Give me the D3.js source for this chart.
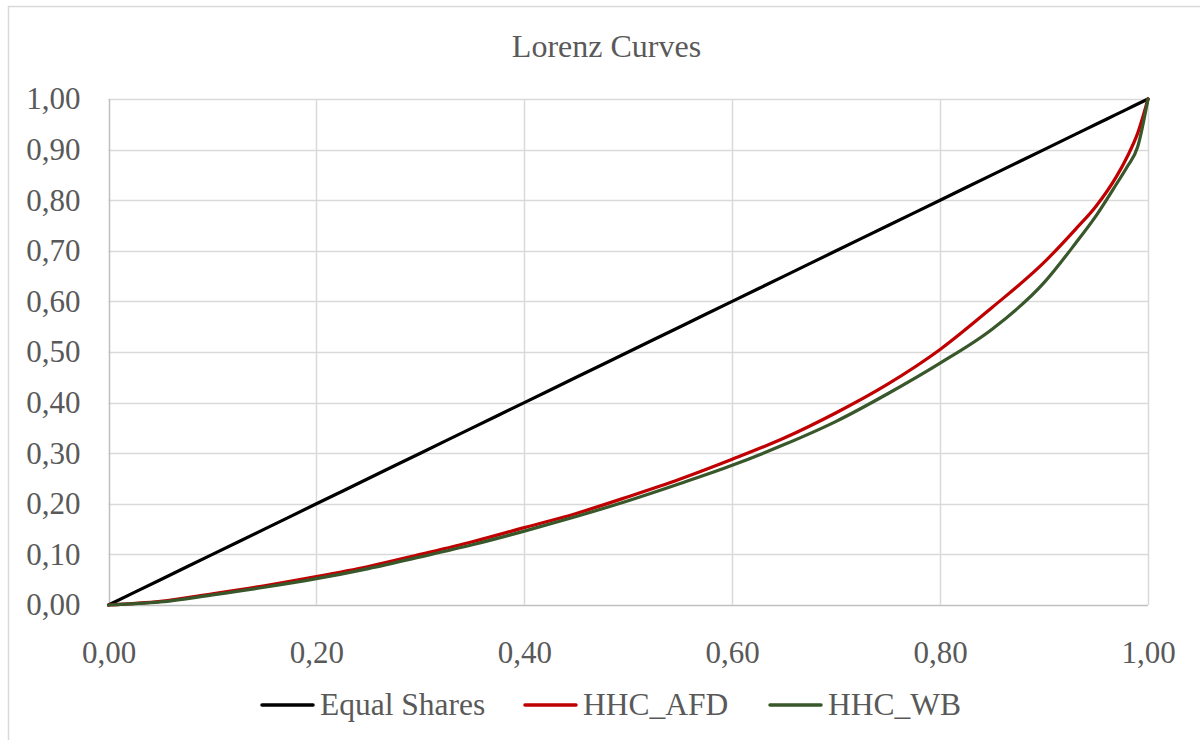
<!DOCTYPE html>
<html>
<head>
<meta charset="utf-8">
<script src="https://cdn.jsdelivr.net/npm/d3@7"></script>
<style>
  html, body { margin: 0; padding: 0; background: #fff; }
  svg { display: block; }
  text { font-family: "Liberation Serif", "Times New Roman", serif; fill: #595959; }
</style>
</head>
<body>
<svg id="chart" width="1200" height="740"></svg>
<script>
// ---- data ----
const popShare = [0, 0.05, 0.10, 0.15, 0.20, 0.25, 0.30, 0.35, 0.40, 0.45, 0.50, 0.55, 0.60, 0.65, 0.70, 0.75, 0.80, 0.85, 0.90, 0.93, 0.95, 0.97, 0.98, 0.99, 1.00];
const equalShares = [0, 0.05, 0.10, 0.15, 0.20, 0.25, 0.30, 0.35, 0.40, 0.45, 0.50, 0.55, 0.60, 0.65, 0.70, 0.75, 0.80, 0.85, 0.90, 0.93, 0.95, 0.97, 0.98, 0.99, 1.00];
const hhcAFD = [0, 0.007, 0.022, 0.038, 0.056, 0.076, 0.100, 0.125, 0.153, 0.181, 0.214, 0.249, 0.288, 0.330, 0.380, 0.437, 0.505, 0.588, 0.677, 0.742, 0.788, 0.848, 0.886, 0.932, 1.00];
const hhcWB  = [0, 0.006, 0.020, 0.035, 0.052, 0.072, 0.095, 0.119, 0.146, 0.175, 0.206, 0.240, 0.276, 0.317, 0.363, 0.418, 0.478, 0.545, 0.637, 0.714, 0.769, 0.833, 0.866, 0.905, 1.00];
const seriesNames = ["Equal Shares", "HHC_AFD", "HHC_WB"];
const seriesColors = ["#000000", "#c00000", "#38572a"];
const xTicks = [0, 0.2, 0.4, 0.6, 0.8, 1.0];
const yTicks = [0, 0.1, 0.2, 0.3, 0.4, 0.5, 0.6, 0.7, 0.8, 0.9, 1.0];
const title = "Lorenz Curves";

// ---- layout ----
const svg = d3.select("#chart");
const plot = { left: 108.5, right: 1148, top: 99, bottom: 605 };
const x = d3.scaleLinear().domain([0, 1]).range([plot.left, plot.right]);
const y = d3.scaleLinear().domain([0, 1]).range([plot.bottom, plot.top]);
const fmt = v => d3.format(".2f")(v).replace(".", ",");
const serif = "'Liberation Serif', 'Times New Roman', serif";

// outer chart border
svg.append("rect").attr("x", 8.5).attr("y", 6.5).attr("width", 1200).attr("height", 740)
  .attr("fill", "#fff").attr("stroke", "#d9d9d9").attr("stroke-width", 1.5);

// title
svg.append("text").attr("x", 606.5).attr("y", 57).attr("text-anchor", "middle")
  .style("font-size", "32px").text(title);

// gridlines
const grid = svg.append("g");
grid.selectAll("line.h").data(yTicks).join("line")
  .attr("x1", plot.left).attr("x2", plot.right)
  .attr("y1", d => Math.round(y(d)) + 0.5).attr("y2", d => Math.round(y(d)) + 0.5)
  .attr("stroke", d => d === 0 ? "#bfbfbf" : "#d9d9d9").attr("stroke-width", 1.5);
grid.selectAll("line.v").data(xTicks).join("line")
  .attr("y1", plot.top).attr("y2", plot.bottom)
  .attr("x1", d => Math.round(x(d)) + 0.5).attr("x2", d => Math.round(x(d)) + 0.5)
  .attr("stroke", d => d === 0 ? "#bfbfbf" : "#d9d9d9").attr("stroke-width", 1.5);

// axes (labels only, via d3 axes)
const xAxis = d3.axisBottom(x).tickValues(xTicks).tickFormat(fmt).tickSize(0).tickPadding(36);
const gx = svg.append("g").attr("transform", `translate(0,${plot.bottom})`).call(xAxis);
gx.select(".domain").remove();
gx.selectAll("text").style("font-size", "31px").attr("fill", "#595959").style("font-family", serif);

const yAxis = d3.axisLeft(y).tickValues(yTicks).tickFormat(fmt).tickSize(0).tickPadding(28);
const gy = svg.append("g").attr("transform", `translate(${plot.left},0)`).call(yAxis);
gy.select(".domain").remove();
gy.selectAll("text").style("font-size", "31px").attr("fill", "#595959").style("font-family", serif);

// lines
const seriesData = [equalShares, hhcAFD, hhcWB];
const line = d3.line().x(d => x(d[0])).y(d => y(d[1])).curve(d3.curveMonotoneX);
seriesData.forEach((vals, i) => {
  svg.append("path")
    .datum(popShare.map((p, j) => [p, vals[j]]))
    .attr("fill", "none")
    .attr("stroke", seriesColors[i])
    .attr("stroke-width", 3.2)
    .attr("stroke-linejoin", "round")
    .attr("stroke-linecap", "round")
    .attr("d", line);
});

// legend
const legendX = [262, 525, 770];
const lg = svg.append("g");
seriesNames.forEach((name, i) => {
  lg.append("line").attr("x1", legendX[i]).attr("x2", legendX[i] + 51)
    .attr("y1", 705).attr("y2", 705)
    .attr("stroke", seriesColors[i]).attr("stroke-width", 3.5).attr("stroke-linecap", "round");
  lg.append("text").attr("x", legendX[i] + 58).attr("y", 715)
    .style("font-size", "31.5px").text(name);
});
</script>
</body>
</html>
